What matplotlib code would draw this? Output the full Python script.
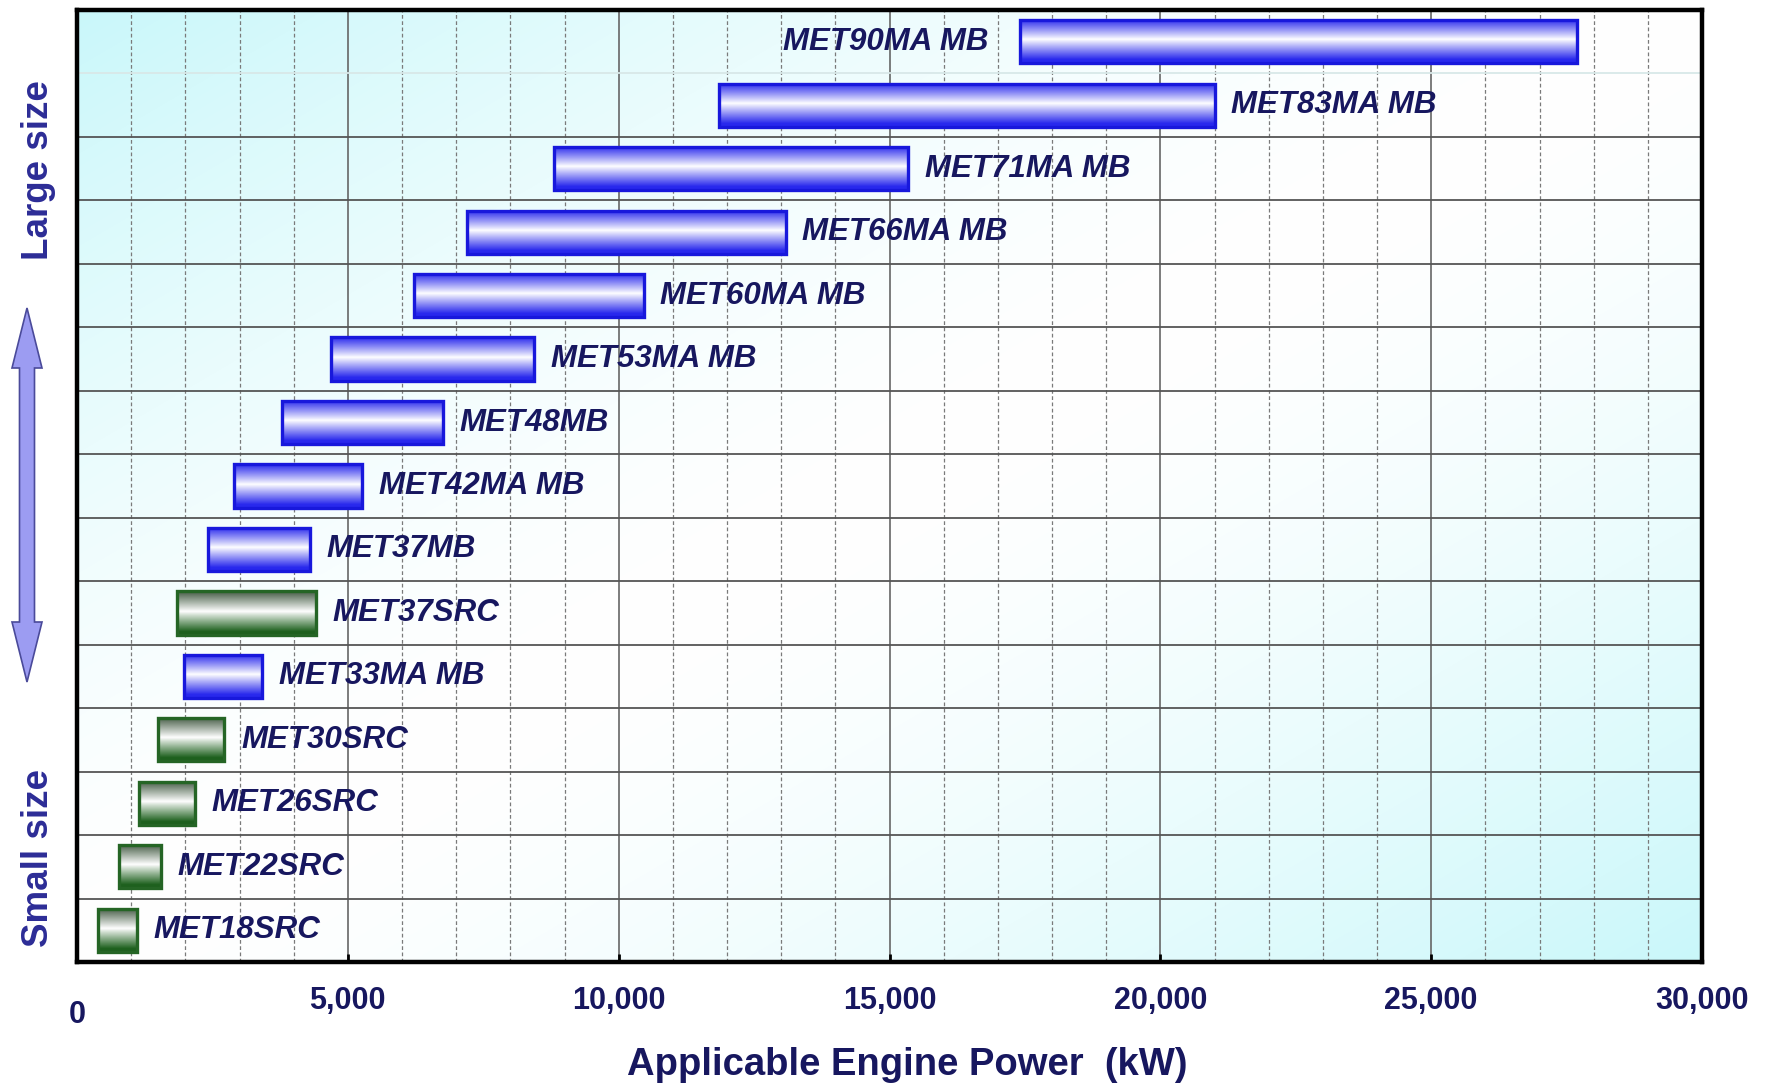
import numpy as np
import matplotlib
matplotlib.use("Agg")
import matplotlib.pyplot as plt
from matplotlib.patches import Polygon

# ---------------- data ----------------
models = ["MET90MA MB", "MET83MA MB", "MET71MA MB", "MET66MA MB", "MET60MA MB",
          "MET53MA MB", "MET48MB", "MET42MA MB", "MET37MB", "MET37SRC",
          "MET33MA MB", "MET30SRC", "MET26SRC", "MET22SRC", "MET18SRC"]
power_min = [17400, 11850, 8800, 7200, 6230, 4680, 3780, 2890, 2420, 1850,
             1980, 1490, 1140, 780, 390]
power_max = [27700, 21000, 15350, 13080, 10460, 8440, 6760, 5260, 4300, 4410,
             3420, 2720, 2170, 1550, 1100]
series = ["MB", "MB", "MB", "MB", "MB", "MB", "MB", "MB", "MB", "SRC",
          "MB", "SRC", "SRC", "SRC", "SRC"]
label_left = ["MET90MA MB"]
xticks = [0, 5000, 10000, 15000, 20000, 25000, 30000]
xtick_labels = ["0", "5,000", "10,000", "15,000", "20,000", "25,000", "30,000"]
xlabel = "Applicable Engine Power  (kW)"
side_top = "Large size"
side_bottom = "Small size"

# ---------------- style ----------------
W, H = 1767, 1087
fig = plt.figure(figsize=(W / 100, H / 100), dpi=100)
fig.patch.set_facecolor("white")
ax = fig.add_axes([77 / W, 1 - 962 / H, (1702 - 77) / W, (962 - 10) / H])

navy = "#17175f"
font = ["Liberation Sans", "DejaVu Sans"]
cyan = np.array([0.79, 0.97, 0.98])
white = np.array([1.0, 1.0, 1.0])

# background diagonal gradient
n = 300
u, v = np.meshgrid(np.linspace(0, 1, n), np.linspace(0, 1, n))
t = (u + (1 - v)) / 2
s = np.clip(np.abs(2 * t - 1), 0, 1) ** 1.5
bg = white[None, None, :] * (1 - s[..., None]) + cyan[None, None, :] * s[..., None]
ax.imshow(bg, extent=(0, 1, 0, 1), transform=ax.transAxes, origin="lower",
          aspect="auto", zorder=0, interpolation="bilinear")

n_rows = len(models)
ypos = np.arange(n_rows)[::-1]  # top = first model

# grid lines
for xv in range(1000, 30000, 1000):
    if xv % 5000 == 0:
        ax.axvline(xv, color="#666666", lw=1.2, zorder=1)
    else:
        ax.axvline(xv, color="#7a7a7a", lw=0.9, ls=(0, (3, 2)), zorder=1)
for i in range(n_rows - 1):
    yb = i + 0.5
    col = "#d8e8e8" if i == n_rows - 2 else "#555555"
    ax.axhline(yb, color=col, lw=1.3, zorder=1)

# bars
widths = [b - a for a, b in zip(power_min, power_max)]
edge_cols = ["#1818dc" if sr == "MB" else "#256525" for sr in series]
bars = ax.barh(ypos, widths, left=power_min, height=0.68, facecolor="none",
               edgecolor=edge_cols, linewidth=2.4, zorder=4)

prof = np.linspace(0, 1, 200)
f = np.clip(np.abs(2 * (prof - 0.04) - 1) / 0.92, 0, 1) ** 0.95
blue_top = np.array([0.16, 0.16, 0.93])
green_top = np.array([0.27, 0.36, 0.27])
green_bot = np.array([0.12, 0.38, 0.12])
for patch, sr in zip(bars.patches, series):
    if sr == "MB":
        cols = white[None, :] * (1 - f[:, None]) + blue_top[None, :] * f[:, None]
    else:
        base = np.where((prof < 0.5)[:, None], green_bot[None, :], green_top[None, :])
        cols = white[None, :] * (1 - f[:, None]) + base * f[:, None]
    img = cols[:, None, :]
    x0, y0 = patch.get_x(), patch.get_y()
    im = ax.imshow(img, extent=(x0, x0 + patch.get_width(), y0, y0 + patch.get_height()),
                   origin="lower", aspect="auto", zorder=3, interpolation="bilinear")
    im.set_clip_path(patch)

# labels
for name, a, b, yy in zip(models, power_min, power_max, ypos):
    if name in label_left:
        ax.annotate(name, xy=(a, yy), xytext=(-22, 0), textcoords="offset points",
                    ha="right", va="center", fontsize=22.5, fontweight="bold",
                    fontstyle="italic", color=navy, family=font, zorder=5)
    else:
        ax.annotate(name, xy=(b, yy), xytext=(12, 0), textcoords="offset points",
                    ha="left", va="center", fontsize=22.5, fontweight="bold",
                    fontstyle="italic", color=navy, family=font, zorder=5)

ax.set_xlim(0, 30000)
ax.set_ylim(-0.5, n_rows - 0.5)
ax.set_yticks([])
ax.set_xticks(xticks)
ax.set_xticklabels([""] + xtick_labels[1:])
ax.tick_params(axis="x", direction="in", length=6, width=2, pad=17,
               labelsize=22, labelcolor=navy)
for lab in ax.get_xticklabels():
    lab.set_fontweight("bold")
    lab.set_family(font)
# "0" sits lower than the other tick labels
ax.annotate(xtick_labels[0], xy=(xticks[0], 0), xycoords=("data", "axes fraction"),
            xytext=(0, -38), textcoords="offset points", ha="center", va="center",
            fontsize=22, fontweight="bold", color=navy, family=font,
            annotation_clip=False)

ax.set_xlabel(xlabel, fontsize=27.5, fontweight="bold", color=navy, family=font,
              va="center")
ax.xaxis.set_label_coords(0.511, -0.108)

for sp in ax.spines.values():
    sp.set_linewidth(3.2)
    sp.set_color("black")
    sp.set_zorder(6)

# side labels
fig.text(39 / W, 1 - 170 / H, side_top, rotation=90, ha="center", va="center",
         fontsize=26.5, fontweight="bold", color="#2c2c96", family=font)
fig.text(39 / W, 1 - 858 / H, side_bottom, rotation=90, ha="center", va="center",
         fontsize=26.5, fontweight="bold", color="#2c2c96", family=font)

# double arrow (decoration)
cx, top, bot = 27, 308, 682
hw, sw, hl = 15, 7.5, 60
pts_px = [(cx, top), (cx + hw, top + hl), (cx + sw, top + hl), (cx + sw, bot - hl),
          (cx + hw, bot - hl), (cx, bot), (cx - hw, bot - hl), (cx - sw, bot - hl),
          (cx - sw, top + hl), (cx - hw, top + hl)]
pts = [(x / W, 1 - y / H) for x, y in pts_px]
fig.patches.append(Polygon(pts, closed=True, transform=fig.transFigure,
                           facecolor="#9c9cf2", edgecolor="#4a4a9a", lw=1.2))

fig.savefig("out.png", dpi=100)
